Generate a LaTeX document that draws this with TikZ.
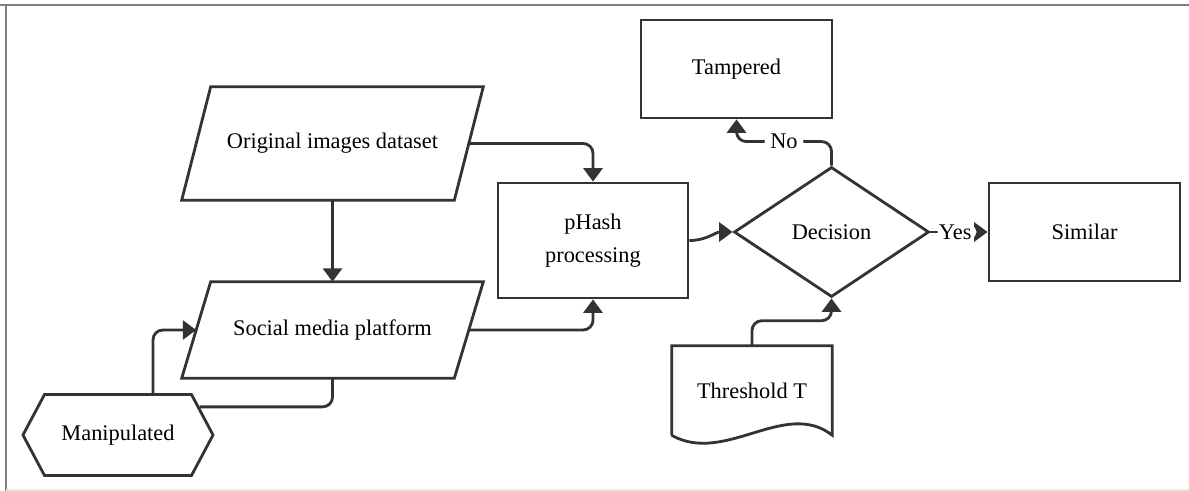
\documentclass[tikz,border=0pt]{standalone}
\usepackage{fontspec}
\setmainfont{Liberation Serif}
\usetikzlibrary{shapes.geometric,shapes.symbols,arrows.meta}

\definecolor{linegray}{HTML}{333333}
\definecolor{framegray}{HTML}{808080}
\definecolor{framelight}{HTML}{E6E6E6}

\begin{document}
\begin{tikzpicture}[x=0.025cm, y=-0.025cm,
  every node/.style={font=\fontsize{15.9}{19}\selectfont, text=black},
  shapeline/.style={draw=linegray, line width=2pt},
  box/.style={shapeline, rectangle, inner sep=0pt, minimum width=4.775cm, minimum height=2.45cm},
  parabody/.style={rectangle, inner sep=0pt, minimum width=7.525cm},
  conn/.style={draw=linegray, line width=2pt, rounded corners=7pt, -{Triangle[width=13.5pt,length=9.5pt]}},
  plain/.style={draw=linegray, line width=2pt, rounded corners=7pt},
  lbl/.style={fill=white, inner xsep=4pt, inner ysep=1pt}]
\useasboundingbox (0,0) rectangle (1189,491);

% frame
\draw[framegray, line width=1.5pt] (0,5) -- (1189,5);
\draw[framegray, line width=1.5pt] (6,5) -- (6,491);
\draw[framelight, line width=1pt] (6,490) -- (1189,490);

% nodes
\node[parabody, minimum height=2.825cm] (orig) at (332.5,143.5) {Original images dataset};
\draw[shapeline] ([xshift=0.725cm]orig.north west) -- (orig.north east) -- ([xshift=-0.725cm]orig.south east) -- (orig.south west) -- cycle;
\node[parabody, minimum height=2.4cm] (soc) at (332.5,330) {Social media platform};
\draw[shapeline] ([xshift=0.725cm]soc.north west) -- (soc.north east) -- ([xshift=-0.725cm]soc.south east) -- (soc.south west) -- cycle;
\node[shapeline, signal, signal to=east and west, signal pointer angle=124, inner sep=0pt, minimum width=4.75cm, minimum height=2.025cm] (manip) at (118,435) {Manipulated};
\node[box, minimum width=4.75cm, minimum height=2.875cm, align=center, font=\fontsize{15.9}{23.4}\selectfont] (phash) at (593,240.5) {pHash\\processing};
\node[shapeline, diamond, aspect=1.5, inner sep=0pt, minimum width=4.875cm, minimum height=3.25cm] (dec) at (831.5,232) {Decision};
\node[box] (tamp) at (736.5,69) {Tampered};
\node[box] (sim) at (1084.5,232) {Similar};
\node[rectangle, inner sep=0pt, minimum width=4cm, minimum height=2.225cm] (thr) at (752,390.5) {Threshold T};
\draw[shapeline] (thr.south west) -- (thr.north west) -- (thr.north east) -- (thr.south east)
  .. controls +(-47,-37) and +(53,30) .. (thr.south west);

% connectors
\draw[conn] (orig.south) -- (soc.north);
\draw[conn] ([xshift=0.875cm]manip.north) |- ([xshift=0.3625cm]soc.west);
\draw[plain] (soc.south) |- (manip.19);
\draw[conn] ([xshift=-0.3625cm]orig.east) -| (phash.north);
\draw[conn] ([xshift=-0.3625cm]soc.east) -| (phash.south);
\draw[conn] (phash.east) to[out=0,in=180] (dec.west);
\draw[conn] (dec.north) -- ++(0,-24) -| node[lbl, pos=0.25] {No} (tamp.south);
\draw[conn] (dec.east) -- node[lbl, pos=0.1, anchor=west, inner xsep=1pt, text width=0.9cm, align=left] {Yes} (sim.west);
\draw[conn] (thr.north) -- ++(0,-25) -| (dec.south);
\end{tikzpicture}
\end{document}
